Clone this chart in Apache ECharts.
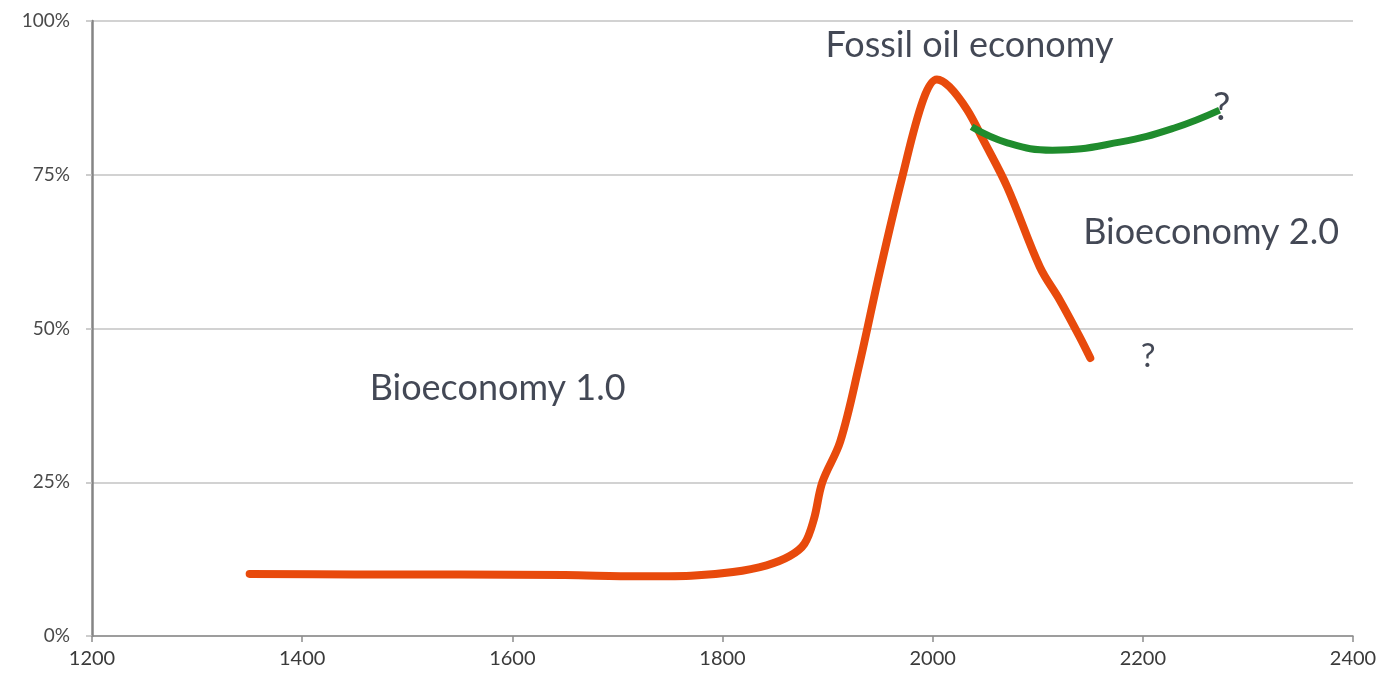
<!DOCTYPE html>
<html><head><meta charset="utf-8">
<script src="https://cdn.jsdelivr.net/npm/echarts@6/dist/echarts.min.js"></script>
<style>html,body{margin:0;padding:0;background:#fff}#c{width:1381px;height:677px}</style>
</head><body><div id="c"></div>
<script>
// Fossil share curve (year, %)
const fossilYears  = [1350,1450,1550,1650,1720,1770,1810,1842,1864,1878,1887,1895,1912,1930,1950,1971,1991,2004,2016,2033,2048,2071,2102,2121,2140,2150];
const fossilValues = [10.1,10.0,10.0, 9.9, 9.7, 9.8,10.4,11.5,13.0,15.0,19.0,25.0,31.6,44.0,59.5,74.6,87.2,90.5,89.3,85.5,80.7,73.0,60.0,54.6,48.6,45.2];
// Bioeconomy 2.0 curve
const bioYears  = [2037,2071,2114,2178,2230,2273];
const bioValues = [82.8,80.2,79.0,80.3,82.6,85.5];
// Annotations
const noteYears  = [2035,1586,2265,2205,2275];
const noteValues = [96.1,40.3,65.7,45.4,86.0];
const noteTexts  = ['Fossil oil economy','Bioeconomy 1.0','Bioeconomy 2.0','?','?'];
const noteSizes  = [36,36,36,33,39];
// Axis ticks
const xTicks = [1200,1400,1600,1800,2000,2200,2400];
const yTicks = [0,25,50,75,100];

const chart = echarts.init(document.getElementById('c'));
const font = 'Lato,"Open Sans",sans-serif';
chart.setOption({
  animation:false,
  grid:{left:92,right:28,top:21,bottom:41},
  xAxis:{type:'value',min:xTicks[0],max:xTicks[xTicks.length-1],interval:200,
    axisLine:{show:true,onZero:false,lineStyle:{color:'#8c8c8c',width:1.5}},
    axisTick:{show:true,length:6,lineStyle:{color:'#8c8c8c',width:1.5}},
    axisLabel:{color:'#3a3a3a',fontSize:20,fontFamily:font,margin:13,formatter:v=>String(v)},
    splitLine:{show:false}},
  yAxis:{type:'value',min:yTicks[0],max:yTicks[yTicks.length-1],interval:25,
    axisLine:{show:true,lineStyle:{color:'#858585',width:2.5}},
    axisTick:{show:true,length:6,lineStyle:{color:'#bdbdbd',width:1.5}},
    axisLabel:{color:'#4a4a4a',fontSize:19,fontFamily:font,margin:22,formatter:v=>v+'%'},
    splitLine:{show:true,lineStyle:{color:'#c3c3c3',width:1.5}}},
  series:[
    {type:'line',data:fossilYears.map((y,i)=>[y,fossilValues[i]]),smooth:0.35,showSymbol:false,
      lineStyle:{color:'#e84a0c',width:8,cap:'round',join:'round'},z:3},
    {type:'line',data:bioYears.map((y,i)=>[y,bioValues[i]]),smooth:0.45,showSymbol:false,
      lineStyle:{color:'#1f8c2d',width:7,cap:'butt',join:'round'},z:4},
    {type:'scatter',symbolSize:0,z:5,silent:true,
      data:noteYears.map((y,i)=>({value:[y,noteValues[i]],
        label:{show:true,position:'inside',formatter:noteTexts[i],fontSize:noteSizes[i],color:'#141a2a',fontFamily:font}}))}
  ]
});
</script></body></html>
